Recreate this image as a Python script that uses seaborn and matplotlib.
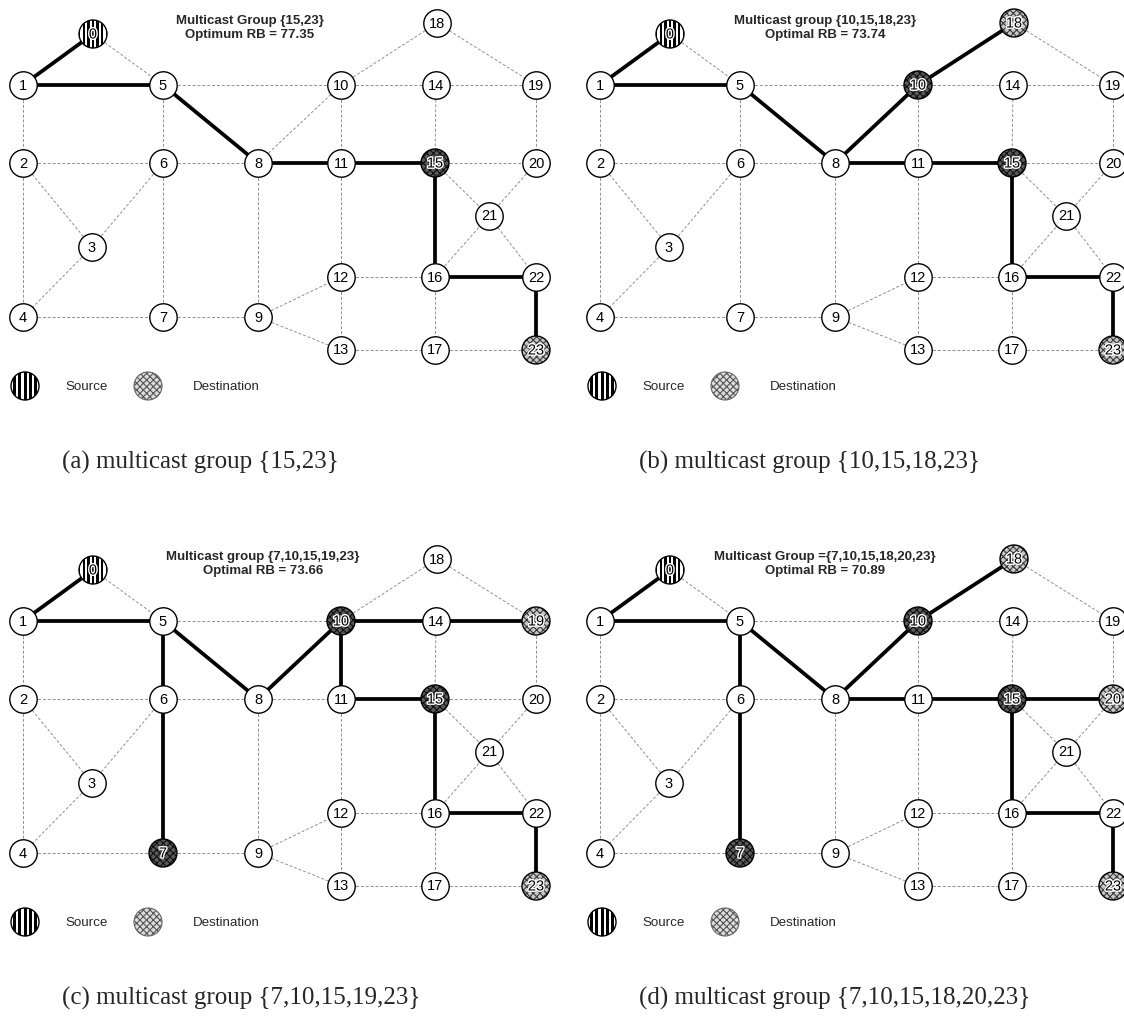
import matplotlib
matplotlib.use("Agg")
import matplotlib.pyplot as plt
from matplotlib.patches import Circle, Rectangle
import matplotlib.patheffects as pe
import seaborn as sns
import pandas as pd

# ---- network layout (panel-local pixel units) ----
node_ids = list(range(24))
node_x = [93, 23, 23, 92, 23, 163, 163, 163, 258, 258, 341, 341,
          341, 341, 436, 435, 435, 435, 437, 536, 536, 489, 536, 536]
node_y = [34, 85, 163, 247, 317, 85, 163, 317, 163, 317, 85, 163,
          277, 350, 85, 163, 277, 350, 23, 85, 163, 216, 277, 350]

links = [(0, 1), (0, 5), (1, 5), (1, 2), (2, 4), (2, 6), (2, 3), (3, 6), (3, 4),
         (4, 7), (5, 6), (5, 8), (5, 10), (6, 7), (6, 8), (7, 9), (8, 9), (8, 10),
         (8, 11), (9, 12), (9, 13), (10, 11), (10, 14), (10, 18), (11, 12),
         (11, 15), (12, 13), (12, 16), (13, 17), (14, 15), (14, 19), (15, 16),
         (15, 20), (15, 21), (16, 17), (16, 21), (16, 22), (17, 23), (18, 19),
         (19, 20), (20, 21), (21, 22), (22, 23)]

source_node = 0

# ---- multicast trees per scenario ----
tree_a = [(0, 1), (1, 5), (5, 8), (8, 11), (11, 15), (15, 16), (16, 22), (22, 23)]
tree_b = [(0, 1), (1, 5), (5, 8), (8, 10), (10, 18), (8, 11), (11, 15), (15, 16),
          (16, 22), (22, 23)]
tree_c = [(0, 1), (1, 5), (5, 6), (6, 7), (5, 8), (8, 10), (10, 14), (14, 19),
          (10, 11), (11, 15), (15, 16), (16, 22), (22, 23)]
tree_d = [(0, 1), (1, 5), (5, 6), (6, 7), (5, 8), (8, 10), (10, 18), (8, 11),
          (11, 15), (15, 20), (15, 16), (16, 22), (22, 23)]

group_a = [15, 23]
group_b = [10, 15, 18, 23]
group_c = [7, 10, 15, 19, 23]
group_d = [7, 10, 15, 18, 20, 23]

dark_members = [7, 10, 15]

titles = ["Multicast Group {15,23}", "Multicast group {10,15,18,23}",
          "Multicast group {7,10,15,19,23}", "Multicast Group ={7,10,15,18,20,23}"]
rb_labels = ["Optimum RB = 77.35", "Optimal RB = 73.74",
             "Optimal RB = 73.66", "Optimal RB = 70.89"]
captions = ["(a) multicast group {15,23}", "(b) multicast group {10,15,18,23}",
            "(c) multicast group {7,10,15,19,23}", "(d) multicast group {7,10,15,18,20,23}"]

panels = [(tree_a, group_a), (tree_b, group_b), (tree_c, group_c), (tree_d, group_d)]

# ---- style ----
sns.set_theme(style="white")
plt.rcParams["font.family"] = ["Liberation Sans", "DejaVu Sans"]
plt.rcParams["hatch.linewidth"] = 0.8

W, H = 1124, 1030
PW, PH = 577, 536
R = 14
title_x = [250, 248, 263, 248]
narrow = ["Liberation Sans Narrow", "Liberation Sans"]

fig = plt.figure(figsize=(W / 100, H / 100), dpi=100)
fig.patch.set_facecolor("white")

pos = {n: (x, y) for n, x, y in zip(node_ids, node_x, node_y)}
nodes_df = pd.DataFrame({"id": node_ids, "x": node_x, "y": node_y})


def striped_disc(ax, cx, cy, r, period, width, z):
    base = Circle((cx, cy), r, facecolor="white", edgecolor="none", zorder=z)
    ax.add_patch(base)
    k = -int(r // period) - 1
    while cx + k * period - width / 2 < cx + r:
        bar = Rectangle((cx + k * period - width / 2, cy - r), width, 2 * r,
                        facecolor="black", edgecolor="none", zorder=z + 0.1)
        ax.add_patch(bar)
        bar.set_clip_path(base)
        k += 1
    ax.add_patch(Circle((cx, cy), r, fill=False, edgecolor="black", lw=1.0, zorder=z + 0.2))


def hatched_disc(ax, cx, cy, r, dark, z, outline="black"):
    face = "#5a5a5a" if dark else "#c8c8c8"
    hcol = "#111111" if dark else "#3a3a3a"
    ax.add_patch(Circle((cx, cy), r, facecolor=face, edgecolor=hcol, hatch="xxxxx",
                        lw=0, zorder=z))
    ax.add_patch(Circle((cx, cy), r, fill=False, edgecolor=outline, lw=1.0, zorder=z + 0.1))


for i, (tree, members) in enumerate(panels):
    ox = (i % 2) * PW
    oy = (i // 2) * PH
    ax = fig.add_axes([ox / W, 1 - (oy + PH) / H, PW / W, PH / H])

    # links of the network
    for a, b in links:
        ax.plot([pos[a][0], pos[b][0]], [pos[a][1], pos[b][1]], color="#8f8f8f",
                lw=0.7, ls=(0, (3, 2)), zorder=1, solid_capstyle="butt")
    # multicast tree
    for a, b in tree:
        ax.plot([pos[a][0], pos[b][0]], [pos[a][1], pos[b][1]], color="black",
                lw=2.7, zorder=2, solid_capstyle="butt")

    # ordinary nodes
    plain = nodes_df[~nodes_df["id"].isin(members + [source_node])]
    sns.scatterplot(data=plain, x="x", y="y", s=390, color="white", edgecolor="black",
                    linewidth=1.0, ax=ax, zorder=3, legend=False)
    ax.set_xlim(0, PW)
    ax.set_ylim(PH, 0)
    ax.set_axis_off()

    # destination nodes
    for n in members:
        hatched_disc(ax, pos[n][0], pos[n][1], R, n in dark_members, 4)
    # source node
    striped_disc(ax, pos[source_node][0], pos[source_node][1], R, 4.6, 2.4, 4)

    for n in node_ids:
        txt = ax.text(pos[n][0], pos[n][1] + 0.5, str(n), ha="center", va="center",
                      fontsize=10.5, color="black", zorder=6)
        if n in members or n == source_node:
            txt.set_path_effects([pe.withStroke(linewidth=2, foreground="white")])

    # header
    ax.text(title_x[i], 21, titles[i], ha="center", va="center", fontsize=9.5,
            fontweight="bold", family=narrow, zorder=7)
    ax.text(title_x[i], 35, rb_labels[i], ha="center", va="center", fontsize=9.5,
            fontweight="bold", family=narrow, zorder=7)

    # key
    striped_disc(ax, 25, 386, R, 5.2, 3.0, 4)
    ax.text(65, 387, "Source", ha="left", va="center", fontsize=9.6, family=narrow)
    ax.add_patch(Circle((148, 386), R, facecolor="#dcdcdc", edgecolor="#555555",
                        hatch="xxxxx", lw=0, zorder=4))
    ax.add_patch(Circle((148, 386), R, fill=False, edgecolor="#666666", lw=0.8, zorder=4.1))
    ax.text(193, 387, "Destination", ha="left", va="center", fontsize=9.6, family=narrow)

    # caption
    ax.text(62, 462, captions[i], ha="left", va="center", fontsize=18,
            family=["Liberation Serif", "DejaVu Serif"])

fig.savefig("out.png", dpi=100, facecolor="white")
